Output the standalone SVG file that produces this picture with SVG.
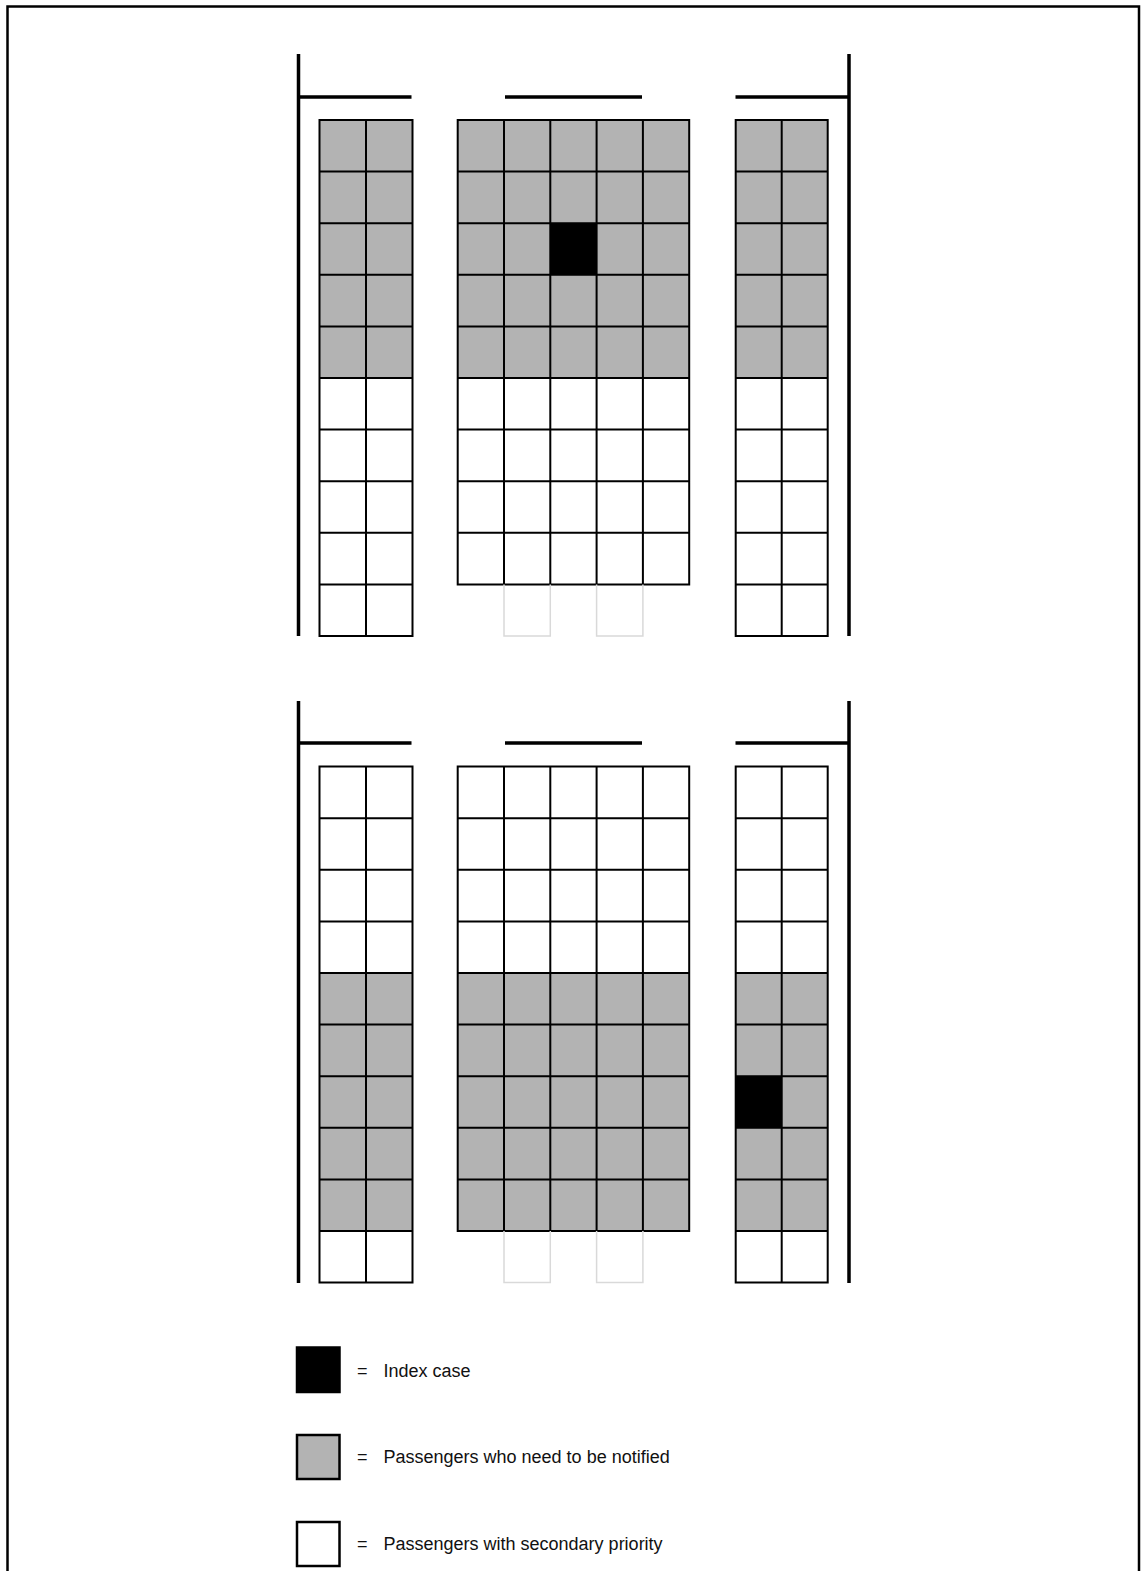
<svg xmlns="http://www.w3.org/2000/svg" width="1146" height="1571" viewBox="0 0 1146 1571">
<style>
.wall{stroke:#000;stroke-width:3.5;fill:none;stroke-linecap:butt}
.grid{stroke:#000;stroke-width:2;fill:none}
.faint{stroke:#d9d9d9;stroke-width:1.5;fill:none}
.g{fill:#b3b3b3}
.w{fill:#fff}
.b{fill:#000}
.lg{stroke:#000;stroke-width:2.5}
.t{font-family:"Liberation Sans",Arial,sans-serif;font-size:18px;fill:#111}
</style>
<rect x="0" y="0" width="1146" height="1571" fill="#fff"/>
<rect x="7.5" y="6.5" width="1131.5" height="1580" fill="none" stroke="#000" stroke-width="2.5"/>

<g id="section-top">
  <g id="walls-top">
    <path class="wall" d="M298.5,54V636M298.5,97H411.5M505,97H642M849,54V636M735.5,97H849"/>
  </g>
  <g id="top-left">
    <rect class="g" x="319.5" y="120" width="93" height="258"/>
    <rect class="w" x="319.5" y="378" width="93" height="258"/>
    <path class="grid" d="M319.5,120H412.5V636H319.5ZM366,120V636M319.5,171.6H412.5M319.5,223.2H412.5M319.5,274.8H412.5M319.5,326.4H412.5M319.5,378H412.5M319.5,429.6H412.5M319.5,481.2H412.5M319.5,532.8H412.5M319.5,584.4H412.5"/>
  </g>
  <g id="top-center">
    <rect class="g" x="457.7" y="120" width="231.5" height="258"/>
    <rect class="w" x="457.7" y="378" width="231.5" height="206.4"/>
    <rect class="b" x="550.3" y="223.2" width="46.3" height="51.6"/>
    <path class="grid" d="M457.7,120H689.2V584.4H457.7ZM504,120V584.4M550.3,120V584.4M596.6,120V584.4M642.9,120V584.4M457.7,171.6H689.2M457.7,223.2H689.2M457.7,274.8H689.2M457.7,326.4H689.2M457.7,378H689.2M457.7,429.6H689.2M457.7,481.2H689.2M457.7,532.8H689.2"/>
    <path class="faint" d="M504,584.4V636H550.3V584.4M596.6,584.4V636H642.9V584.4"/>
  </g>
  <g id="top-right">
    <rect class="g" x="735.7" y="120" width="92" height="258"/>
    <rect class="w" x="735.7" y="378" width="92" height="258"/>
    <path class="grid" d="M735.7,120H827.7V636H735.7ZM781.7,120V636M735.7,171.6H827.7M735.7,223.2H827.7M735.7,274.8H827.7M735.7,326.4H827.7M735.7,378H827.7M735.7,429.6H827.7M735.7,481.2H827.7M735.7,532.8H827.7M735.7,584.4H827.7"/>
  </g>
</g>

<g id="section-bottom">
  <g id="walls-bottom">
    <path class="wall" d="M298.5,701V1283M298.5,743H411.5M505,743H642M849,701V1283M735.5,743H849"/>
  </g>
  <g id="bottom-left">
    <rect class="w" x="319.5" y="766.6" width="93" height="206.4"/>
    <rect class="g" x="319.5" y="973" width="93" height="258"/>
    <rect class="w" x="319.5" y="1231" width="93" height="51.6"/>
    <path class="grid" d="M319.5,766.6H412.5V1282.6H319.5ZM366,766.6V1282.6M319.5,818.2H412.5M319.5,869.8H412.5M319.5,921.4H412.5M319.5,973H412.5M319.5,1024.6H412.5M319.5,1076.2H412.5M319.5,1127.8H412.5M319.5,1179.4H412.5M319.5,1231H412.5"/>
  </g>
  <g id="bottom-center">
    <rect class="w" x="457.7" y="766.6" width="231.5" height="206.4"/>
    <rect class="g" x="457.7" y="973" width="231.5" height="258"/>
    <path class="grid" d="M457.7,766.6H689.2V1231H457.7ZM504,766.6V1231M550.3,766.6V1231M596.6,766.6V1231M642.9,766.6V1231M457.7,818.2H689.2M457.7,869.8H689.2M457.7,921.4H689.2M457.7,973H689.2M457.7,1024.6H689.2M457.7,1076.2H689.2M457.7,1127.8H689.2M457.7,1179.4H689.2"/>
    <path class="faint" d="M504,1231V1282.6H550.3V1231M596.6,1231V1282.6H642.9V1231"/>
  </g>
  <g id="bottom-right">
    <rect class="w" x="735.7" y="766.6" width="92" height="206.4"/>
    <rect class="g" x="735.7" y="973" width="92" height="258"/>
    <rect class="w" x="735.7" y="1231" width="92" height="51.6"/>
    <rect class="b" x="735.7" y="1076.2" width="46" height="51.6"/>
    <path class="grid" d="M735.7,766.6H827.7V1282.6H735.7ZM781.7,766.6V1282.6M735.7,818.2H827.7M735.7,869.8H827.7M735.7,921.4H827.7M735.7,973H827.7M735.7,1024.6H827.7M735.7,1076.2H827.7M735.7,1127.8H827.7M735.7,1179.4H827.7M735.7,1231H827.7"/>
  </g>
</g>

<g id="legend">
  <g id="legend-index">
    <rect class="b lg" x="297" y="1347.5" width="42.5" height="44.5"/>
    <text class="t" x="357" y="1376.5">=</text>
    <text class="t" x="383.5" y="1376.5">Index case</text>
  </g>
  <g id="legend-notify">
    <rect class="g lg" x="297" y="1435" width="42.5" height="44"/>
    <text class="t" x="357" y="1462.5">=</text>
    <text class="t" x="383.5" y="1462.5">Passengers who need to be notified</text>
  </g>
  <g id="legend-secondary">
    <rect class="w lg" x="297" y="1522" width="42.5" height="44"/>
    <text class="t" x="357" y="1550">=</text>
    <text class="t" x="383.5" y="1550">Passengers with secondary priority</text>
  </g>
</g>
</svg>
